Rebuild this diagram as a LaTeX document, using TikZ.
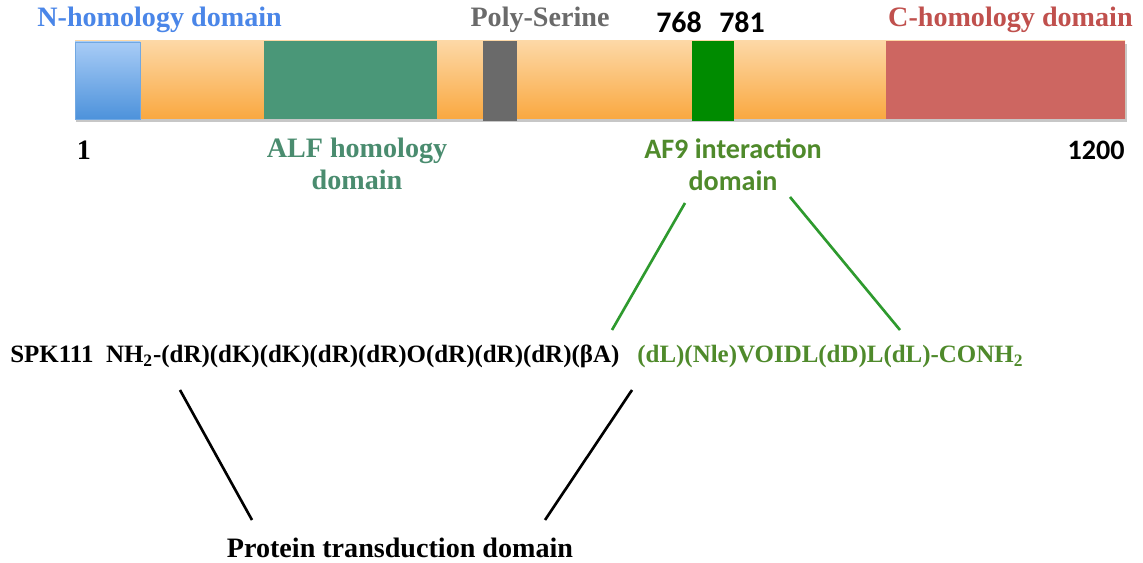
\documentclass[tikz,border=0pt]{standalone}
\usepackage{fontspec}
\setmainfont{Liberation Serif}
\newfontfamily\calibrifont{Carlito}
\usetikzlibrary{positioning}

\begin{document}
\begin{tikzpicture}[x=0.02cm, y=-0.02cm, font=\fontsize{16}{18}\selectfont\bfseries,
  every node/.style={inner sep=0pt},
  sans/.style={font=\calibrifont\fontsize{16}{18}\selectfont\bfseries},
  seq/.style={font=\fontsize{14.2}{16}\selectfont\bfseries, anchor=base west}]
  \definecolor{barTop}{HTML}{FDD8A6}
  \definecolor{barBot}{HTML}{F9A840}
  \definecolor{nblueTop}{HTML}{A8CCF6}
  \definecolor{nblueBot}{HTML}{4D92DB}
  \definecolor{alfgreen}{HTML}{4A9778}
  \definecolor{sergrey}{HTML}{6A6A6A}
  \definecolor{afgreen}{HTML}{008B00}
  \definecolor{cred}{HTML}{CD6661}
  \definecolor{ntext}{HTML}{4A86E8}
  \definecolor{ctext}{HTML}{C0504D}
  \definecolor{alftext}{HTML}{4A8C6F}
  \definecolor{seqgreen}{HTML}{4F8A2B}
  \definecolor{linegreen}{HTML}{2E9A2E}
  \useasboundingbox[fill=white] (0,0) rectangle (1143,563);

  % protein bar
  \fill[black!22] (76,44) rectangle (1127,122);
  \shade[top color=barTop, bottom color=barBot] (75,41) rectangle (1125,119);
  \shade[top color=nblueTop, bottom color=nblueBot, draw=nblueBot!80] (75,42) rectangle (140,119);
  \fill[alfgreen] (264,41) rectangle (437,119);
  \fill[sergrey] (483,41) rectangle (517,121);
  \fill[afgreen] (692,41) rectangle (734,121);
  \fill[cred] (886,41) rectangle (1125,119);

  \node[ntext, anchor=west] (nlab) at (37,20) {N-homology domain};
  \node[sergrey] (polylab) at (540,20) {Poly-Serine};
  \node[sans, font=\calibrifont\fontsize{17}{18}\selectfont\bfseries] (p768) at (679,22) {768};
  \node[sans, font=\calibrifont\fontsize{17}{18}\selectfont\bfseries] (p781) at (742,22) {781};
  \node[ctext, anchor=east] (clab) at (1133,20) {C-homology domain};

  \node (first) at (84,150) {1};
  \node[sans, anchor=east] (last) at (1125,150) {1200};
  \node[alftext, align=center] (alflab) at (357,164) {ALF homology\\domain};
  \node[sans, seqgreen, align=center] (af9lab) at (733,165) {AF9 interaction\\domain};

  % peptide sequence
  \node[seq] (ptdseq) at (10,363)
    {SPK111\ \ NH\textsubscript{2}-(dR)(dK)(dK)(dR)(dR)O(dR)(dR)(dR)(βA)};
  \node[seq, seqgreen] (afseq) at (637,363)
    {(dL)(Nle)VOIDL(dD)L(dL)-CONH\textsubscript{2}};
  \node (ptdlab) at (400,548) {Protein transduction domain};

  \coordinate (g1a) at (685,203);
  \coordinate (g1b) at (612,330);
  \coordinate (g2a) at (790,197);
  \coordinate (g2b) at (900,330);
  \coordinate (k1a) at (180,390);
  \coordinate (k1b) at (252,520);
  \coordinate (k2a) at (632,390);
  \coordinate (k2b) at (545,520);
  \draw[linegreen, line width=1.5pt] (g1a) -- (g1b);
  \draw[linegreen, line width=1.5pt] (g2a) -- (g2b);
  \draw[black, line width=1.5pt] (k1a) -- (k1b);
  \draw[black, line width=1.5pt] (k2a) -- (k2b);
\end{tikzpicture}
\end{document}
